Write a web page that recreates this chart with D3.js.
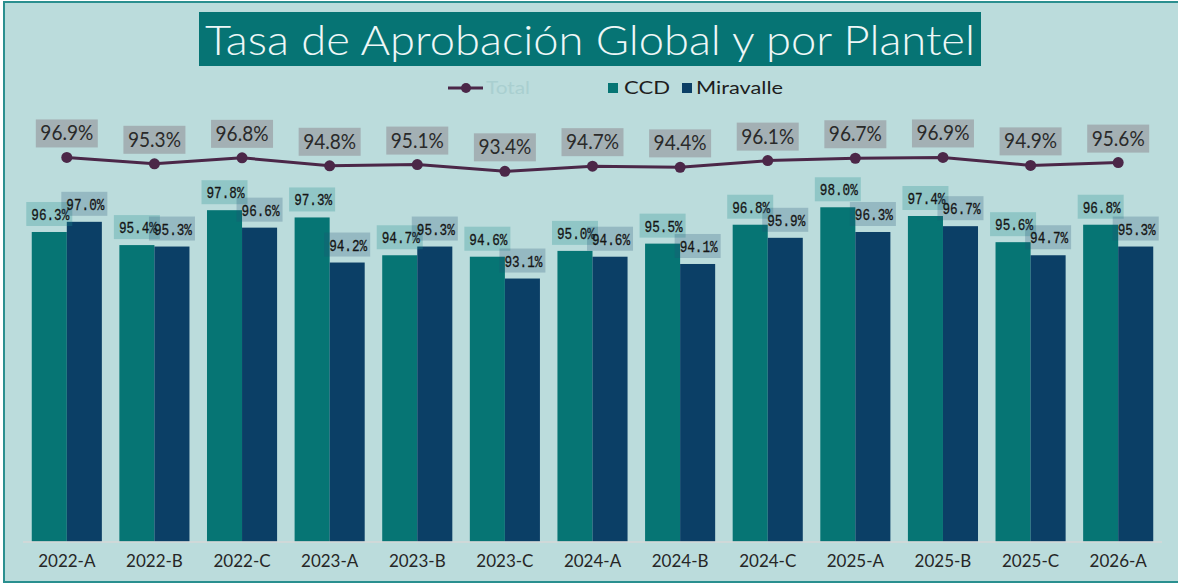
<!DOCTYPE html>
<html>
<head>
<meta charset="utf-8">
<script src="https://cdn.jsdelivr.net/npm/d3@7"></script>
<style>
  body { margin: 0; background: #ffffff; }
  svg { display: block; }
</style>
</head>
<body>
<div id="chart"></div>
<script>
// Tasa de aprobacion por periodo
var periods = ["2022-A", "2022-B", "2022-C", "2023-A", "2023-B", "2023-C", "2024-A",
               "2024-B", "2024-C", "2025-A", "2025-B", "2025-C", "2026-A"];
var totalRate = [96.9, 95.3, 96.8, 94.8, 95.1, 93.4, 94.7, 94.4, 96.1, 96.7, 96.9, 94.9, 95.6];
var ccdRate = [96.3, 95.4, 97.8, 97.3, 94.7, 94.6, 95.0, 95.5, 96.8, 98.0, 97.4, 95.6, 96.8];
var miravalleRate = [97.0, 95.3, 96.6, 94.2, 95.3, 93.1, 94.6, 94.1, 95.9, 96.3, 96.7, 94.7, 95.3];
var seriesNames = ["CCD", "Miravalle"];

var width = 1178, height = 584;
var colors = { CCD: "#067574", Miravalle: "#0b3f66" };
var lineColor = "#4b2748";

var svg = d3.select("#chart").append("svg")
    .attr("width", width)
    .attr("height", height);

// fondo y borde
svg.append("rect")
    .attr("x", 4).attr("y", 2)
    .attr("width", width + 10).attr("height", 580)
    .attr("fill", "#bbdcdc")
    .attr("stroke", "#2a8f8f")
    .attr("stroke-width", 2);

// titulo
svg.append("rect")
    .attr("x", 199).attr("y", 12)
    .attr("width", 782).attr("height", 54)
    .attr("fill", "#067474");
svg.append("text")
    .attr("x", 590).attr("y", 55)
    .attr("text-anchor", "middle")
    .attr("font-family", "Lato, sans-serif")
    .attr("font-weight", 300)
    .attr("font-size", 42)
    .attr("fill", "#eef7f7")
    .attr("textLength", 770)
    .attr("lengthAdjust", "spacingAndGlyphs")
    .text("Tasa de Aprobación Global y por Plantel");

// escalas
var x = d3.scaleBand()
    .domain(periods)
    .range([23, 1162])
    .paddingInner(0.2)
    .paddingOuter(0.1);

var x1 = d3.scaleBand()
    .domain(seriesNames)
    .range([0, x.bandwidth()]);

var y = d3.scaleLinear().domain([75, 105]).range([541.7, 105.5]);
var y2 = d3.scaleLinear().domain([0, 110]).range([541.7, 105.5]);

var rows = periods.map(function(p, i) {
  return { period: p, total: totalRate[i], CCD: ccdRate[i], Miravalle: miravalleRate[i] };
});

var fmt = function(v) { return d3.format(".1f")(v) + "%"; };

// barras
var groups = svg.selectAll("g.grp")
    .data(rows)
    .enter().append("g")
    .attr("class", "grp")
    .attr("transform", function(d) { return "translate(" + x(d.period) + ",0)"; });

groups.selectAll("rect.bar")
    .data(function(d) { return seriesNames.map(function(s) { return { key: s, value: d[s] }; }); })
    .enter().append("rect")
    .attr("class", "bar")
    .attr("x", function(d) { return x1(d.key); })
    .attr("y", function(d) { return y(d.value); })
    .attr("width", x1.bandwidth())
    .attr("height", function(d) { return y(75) - y(d.value); })
    .attr("fill", function(d) { return colors[d.key]; });

// eje x
svg.append("line")
    .attr("x1", 23).attr("x2", 1162)
    .attr("y1", 542).attr("y2", 542)
    .attr("stroke", "#d6d9d9")
    .attr("stroke-width", 1.5);

var xAxis = svg.append("g")
    .attr("transform", "translate(0,542)")
    .call(d3.axisBottom(x).tickSize(0).tickPadding(10));
xAxis.select(".domain").remove();
xAxis.selectAll("text")
    .attr("font-family", "Lato, sans-serif")
    .attr("font-size", 17)
    .attr("fill", "#262626")
    .attr("dy", "0.9em");

// etiquetas de barras
var labelG = groups.selectAll("g.blab")
    .data(function(d) { return seriesNames.map(function(s) { return { key: s, value: d[s] }; }); })
    .enter().append("g")
    .attr("class", "blab")
    .attr("transform", function(d) {
      return "translate(" + (x1(d.key) + x1.bandwidth() / 2) + "," + (y(d.value) - 6) + ")";
    });

labelG.append("rect")
    .attr("x", -23).attr("y", -24)
    .attr("width", 46).attr("height", 24)
    .attr("fill", function(d) { return d.key === "CCD" ? "#1f8f8f" : "#234f72"; })
    .attr("fill-opacity", function(d) { return d.key === "CCD" ? 0.28 : 0.25; });

labelG.append("text")
    .attr("x", -18).attr("y", -6)
    .attr("font-family", "'Liberation Mono', monospace")
    .attr("font-size", 16)
    .attr("fill", "#151515")
    .attr("stroke", "#151515")
    .attr("stroke-width", 0.3)
    .attr("textLength", 38)
    .attr("lengthAdjust", "spacingAndGlyphs")
    .text(function(d) { return fmt(d.value); });

// linea total
var line = d3.line()
    .x(function(d) { return x(d.period) + x.bandwidth() / 2; })
    .y(function(d) { return y2(d.total); });

svg.append("path")
    .datum(rows)
    .attr("d", line)
    .attr("fill", "none")
    .attr("stroke", lineColor)
    .attr("stroke-width", 3);

svg.selectAll("circle.pt")
    .data(rows)
    .enter().append("circle")
    .attr("class", "pt")
    .attr("cx", function(d) { return x(d.period) + x.bandwidth() / 2; })
    .attr("cy", function(d) { return y2(d.total); })
    .attr("r", 5.5)
    .attr("fill", lineColor);

var tlab = svg.selectAll("g.tlab")
    .data(rows)
    .enter().append("g")
    .attr("class", "tlab")
    .attr("transform", function(d) {
      return "translate(" + (x(d.period) + x.bandwidth() / 2) + "," + (y2(d.total) - 10) + ")";
    });

tlab.append("rect")
    .attr("x", -31).attr("y", -28)
    .attr("width", 62).attr("height", 28)
    .attr("fill", "#a3b0b4");

tlab.append("text")
    .attr("x", 0).attr("y", -7)
    .attr("text-anchor", "middle")
    .attr("font-family", "Lato, sans-serif")
    .attr("font-size", 21)
    .attr("fill", "#2a2a2a")
    .attr("textLength", 53)
    .attr("lengthAdjust", "spacingAndGlyphs")
    .text(function(d) { return fmt(d.total); });

// leyenda
var legend = svg.append("g").attr("class", "legend");

legend.append("line")
    .attr("x1", 448).attr("x2", 483)
    .attr("y1", 88).attr("y2", 88)
    .attr("stroke", lineColor).attr("stroke-width", 3);
legend.append("circle")
    .attr("cx", 466).attr("cy", 88).attr("r", 5)
    .attr("fill", lineColor);
legend.append("text")
    .attr("x", 486).attr("y", 94)
    .attr("font-family", "Lato, sans-serif")
    .attr("font-size", 17)
    .attr("fill", "#a9cfd0")
    .attr("textLength", 44)
    .attr("lengthAdjust", "spacingAndGlyphs")
    .text("Total");

var legendItems = [
  { key: "CCD", sx: 608, tx: 624, tw: 46 },
  { key: "Miravalle", sx: 682, tx: 696, tw: 87 }
];

legend.selectAll("rect.sw")
    .data(legendItems)
    .enter().append("rect")
    .attr("class", "sw")
    .attr("x", function(d) { return d.sx; })
    .attr("y", 83)
    .attr("width", 10).attr("height", 10)
    .attr("fill", function(d) { return colors[d.key]; });

legend.selectAll("text.lt")
    .data(legendItems)
    .enter().append("text")
    .attr("class", "lt")
    .attr("x", function(d) { return d.tx; })
    .attr("y", 94)
    .attr("font-family", "Lato, sans-serif")
    .attr("font-size", 17)
    .attr("fill", "#1e1e1e")
    .attr("textLength", function(d) { return d.tw; })
    .attr("lengthAdjust", "spacingAndGlyphs")
    .text(function(d) { return d.key; });
</script>
</body>
</html>
